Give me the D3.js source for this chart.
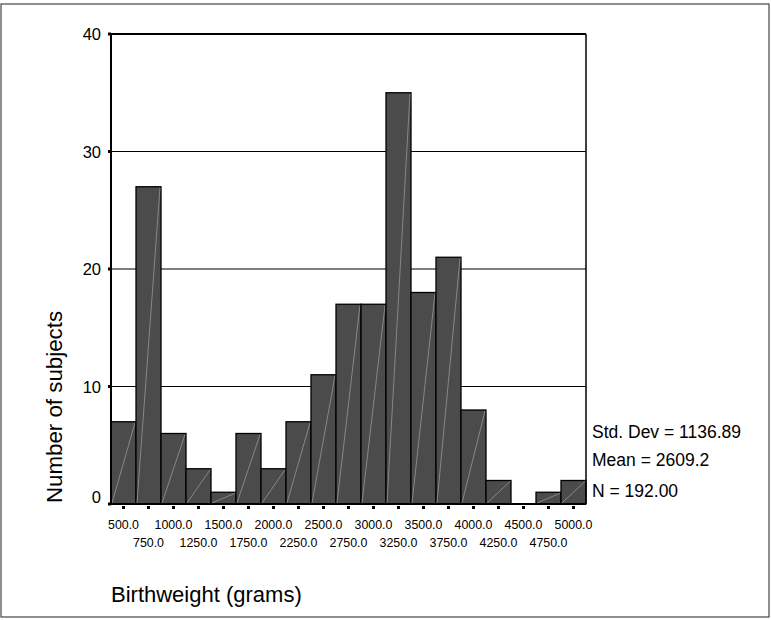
<!DOCTYPE html>
<html>
<head>
<meta charset="utf-8">
<script src="https://cdn.jsdelivr.net/npm/d3@7"></script>
<style>
  body { margin: 0; background: #fff; }
  text { font-family: Arial, "Liberation Sans", sans-serif; fill: #000; }
</style>
</head>
<body>
<div id="chart"></div>
<script>
// bin midpoints (grams) and counts
var binCenters = [500, 750, 1000, 1250, 1500, 1750, 2000, 2250, 2500, 2750,
                  3000, 3250, 3500, 3750, 4000, 4250, 4500, 4750, 5000];
var counts = [7, 27, 6, 3, 1, 6, 3, 7, 11, 17, 17, 35, 18, 21, 8, 2, 0, 1, 2];
var yTicks = [0, 10, 20, 30, 40];
var statLines = ["Std. Dev = 1136.89", "Mean = 2609.2", "N = 192.00"];

var W = 771, H = 620;
var pLeft = 111, pRight = 586, pTop = 34, pBottom = 504;

var svg = d3.select("#chart").append("svg")
  .attr("width", W)
  .attr("height", H);

// outer frame
svg.append("rect")
  .attr("x", 1).attr("y", 4)
  .attr("width", 768).attr("height", 613)
  .attr("fill", "none")
  .attr("stroke", "#444")
  .attr("stroke-width", 1.2);

var x = d3.scaleBand()
  .domain(binCenters)
  .range([pLeft, pRight])
  .padding(0);

var y = d3.scaleLinear()
  .domain([0, 40])
  .range([pBottom, pTop]);

// gridlines
svg.selectAll(".grid")
  .data(yTicks.filter(function(d){ return d > 0 && d < 40; }))
  .enter().append("line")
  .attr("x1", pLeft).attr("x2", pRight)
  .attr("y1", function(d){ return y(d); })
  .attr("y2", function(d){ return y(d); })
  .attr("stroke", "#000")
  .attr("stroke-width", 1.2);

// bars
var bars = svg.selectAll(".bar")
  .data(counts.map(function(c, i){ return {bin: binCenters[i], n: c}; })
    .filter(function(d){ return d.n > 0; }))
  .enter().append("g");

bars.append("rect")
  .attr("x", function(d){ return x(d.bin); })
  .attr("y", function(d){ return y(d.n); })
  .attr("width", x.bandwidth())
  .attr("height", function(d){ return pBottom - y(d.n); })
  .attr("fill", "#4b4b4b")
  .attr("stroke", "#000")
  .attr("stroke-width", 1.3);

// the faint diagonal drawn inside each bar
bars.append("line")
  .attr("x1", function(d){ return x(d.bin) + 1; })
  .attr("y1", pBottom - 1)
  .attr("x2", function(d){ return x(d.bin) + x.bandwidth() - 1; })
  .attr("y2", function(d){ return y(d.n) + 1; })
  .attr("stroke", "#a0a0a0")
  .attr("stroke-width", 0.7);

// frame of plot area
svg.append("line")
  .attr("x1", pLeft).attr("x2", pRight)
  .attr("y1", pTop).attr("y2", pTop)
  .attr("stroke", "#000").attr("stroke-width", 2);
svg.append("line")
  .attr("x1", pRight).attr("x2", pRight)
  .attr("y1", pTop).attr("y2", pBottom)
  .attr("stroke", "#000").attr("stroke-width", 1.5);
svg.append("line")
  .attr("x1", pLeft).attr("x2", pLeft)
  .attr("y1", pTop).attr("y2", pBottom)
  .attr("stroke", "#000").attr("stroke-width", 2);
svg.append("line")
  .attr("x1", pLeft).attr("x2", pRight)
  .attr("y1", pBottom).attr("y2", pBottom)
  .attr("stroke", "#000").attr("stroke-width", 2);

// y ticks and labels
svg.selectAll(".ytick")
  .data(yTicks)
  .enter().append("rect")
  .attr("x", pLeft - 3)
  .attr("y", function(d){ return y(d) - 1.5; })
  .attr("width", 3).attr("height", 3)
  .attr("fill", "#000");

svg.selectAll(".ylab")
  .data(yTicks)
  .enter().append("text")
  .attr("x", pLeft - 10)
  .attr("y", function(d){ return d === 0 ? y(d) - 1 : y(d) + 6; })
  .attr("text-anchor", "end")
  .attr("font-size", 16.5)
  .text(function(d){ return d; });

// x ticks and labels
svg.selectAll(".xtick")
  .data(binCenters)
  .enter().append("rect")
  .attr("x", function(d){ return x(d) + x.bandwidth() / 2 - 1.5; })
  .attr("y", pBottom + 2)
  .attr("width", 3).attr("height", 3)
  .attr("fill", "#000");

svg.selectAll(".xlab")
  .data(binCenters)
  .enter().append("text")
  .attr("x", function(d){ return x(d) + x.bandwidth() / 2; })
  .attr("y", function(d, i){ return i % 2 === 0 ? 529 : 546.5; })
  .attr("text-anchor", "middle")
  .attr("font-size", 12.4)
  .text(function(d){ return d3.format(".1f")(d); });

// stats box
var statBase = [438, 466, 497];
svg.selectAll(".stat")
  .data(statLines)
  .enter().append("text")
  .attr("x", 592)
  .attr("y", function(d, i){ return statBase[i]; })
  .attr("font-size", 17.5)
  .text(function(d){ return d; });

// axis titles
svg.append("text")
  .attr("transform", "translate(62,407) rotate(-90)")
  .attr("text-anchor", "middle")
  .attr("font-size", 22.3)
  .text("Number of subjects");

svg.append("text")
  .attr("x", 111)
  .attr("y", 602)
  .attr("font-size", 22)
  .text("Birthweight (grams)");
</script>
</body>
</html>
